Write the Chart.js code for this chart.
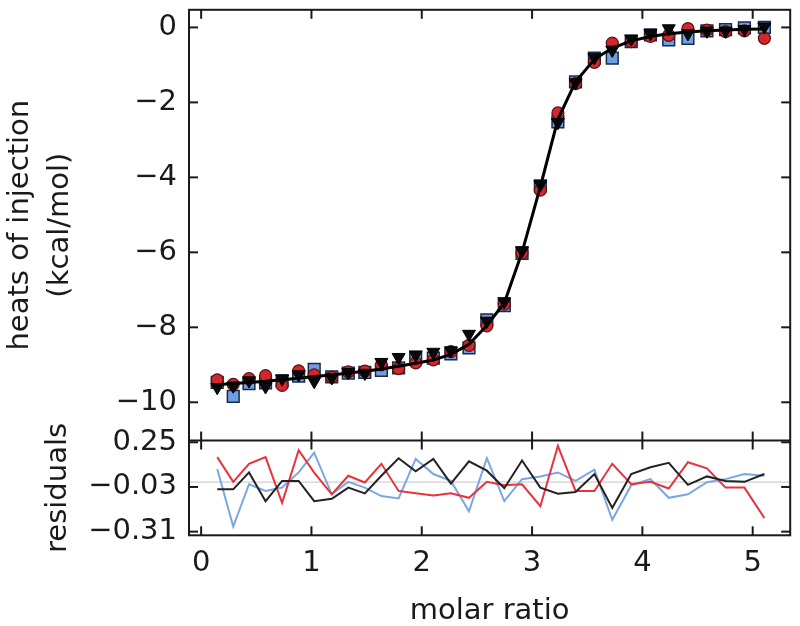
<!DOCTYPE html>
<html><head><meta charset="utf-8">
<script src="https://cdn.jsdelivr.net/npm/chart.js@4"></script>
<style>html,body{margin:0;padding:0;background:#fff;overflow:hidden}canvas{display:block}</style>
</head><body>
<canvas id="c" width="800" height="626" style="width:800px;height:626px"></canvas>
<script>
const molarRatio = [0.146,0.291,0.434,0.584,0.734,0.884,1.025,1.184,1.334,1.484,1.634,1.790,1.945,2.105,2.264,2.428,2.590,2.748,2.909,3.075,3.234,3.394,3.565,3.727,3.899,4.073,4.239,4.413,4.585,4.754,4.925,5.106];
const fitHeat = [-9.53,-9.50,-9.47,-9.44,-9.40,-9.36,-9.31,-9.27,-9.22,-9.17,-9.11,-9.04,-8.96,-8.87,-8.72,-8.45,-7.95,-7.35,-6.00,-4.25,-2.45,-1.45,-0.85,-0.55,-0.36,-0.24,-0.17,-0.12,-0.09,-0.07,-0.05,-0.04];
const heatRed = [-9.40,-9.52,-9.37,-9.29,-9.55,-9.16,-9.27,-9.33,-9.19,-9.17,-9.00,-9.10,-8.95,-8.87,-8.65,-8.48,-7.96,-7.38,-6.02,-4.34,-2.28,-1.50,-0.93,-0.42,-0.38,-0.24,-0.21,-0.03,-0.07,-0.11,-0.09,-0.29];
const heatBlue = [-9.47,-9.84,-9.50,-9.48,-9.43,-9.30,-9.12,-9.32,-9.22,-9.20,-9.15,-9.08,-8.82,-8.82,-8.71,-8.55,-7.80,-7.42,-6.03,-4.23,-2.52,-1.45,-0.82,-0.82,-0.38,-0.20,-0.33,-0.29,-0.09,-0.06,-0.01,0.00];
const heatBlack = [-9.60,-9.56,-9.42,-9.58,-9.37,-9.26,-9.44,-9.34,-9.20,-9.22,-8.93,-8.80,-8.73,-8.66,-8.62,-8.18,-7.83,-7.31,-5.95,-4.19,-2.53,-1.47,-0.80,-0.60,-0.30,-0.16,-0.03,-0.16,-0.09,-0.09,-0.05,0.02];
const residRed = [0.157,0.002,0.115,0.157,-0.130,0.200,0.060,-0.076,0.040,-0.002,0.115,-0.055,-0.070,-0.083,-0.070,-0.098,0.002,-0.019,-0.013,-0.151,0.227,-0.055,-0.055,0.115,-0.013,0.002,-0.040,0.125,0.087,-0.034,-0.034,-0.225];
const residBlue = [0.083,-0.278,-0.013,-0.055,-0.034,0.061,0.185,-0.076,0.002,-0.034,-0.087,-0.102,0.146,0.051,0.008,-0.183,0.150,-0.119,0.019,0.036,0.061,0.008,0.078,-0.236,-0.019,0.019,-0.098,-0.076,0.000,0.019,0.051,0.040];
const residBlack = [-0.045,-0.045,0.061,-0.119,0.008,0.008,-0.119,-0.104,-0.034,-0.070,0.040,0.150,0.068,0.146,-0.009,0.131,0.072,-0.038,0.136,-0.034,-0.072,-0.062,0.051,-0.161,0.051,0.093,0.121,-0.017,0.036,0.008,0.002,0.051];
const xTicks = [0,1,2,3,4,5];
const heatTicks = [0,-2,-4,-6,-8,-10];
const residTicks = [0.25,-0.03,-0.31];

const FONT = 'DejaVu Sans';
const TXT = '#1a1a1a';
const pts = arr => molarRatio.map((x,i)=>({x:x,y:arr[i]}));
const fmt = d => v => (v<0?'\u2212':'') + Math.abs(v).toFixed(d);
const setTicks = arr => s => { s.ticks = arr.map(v=>({value:v})); };

const framePlugin = {
  id:'frame',
  beforeDatasetsDraw(chart){
    const {ctx, chartArea:a, scales} = chart;
    const py = scales.y2.getPixelForValue(0);
    ctx.save();
    ctx.strokeStyle = '#cfcfcf'; ctx.lineWidth = 1.2;
    ctx.beginPath(); ctx.moveTo(a.left, py); ctx.lineTo(a.right, py); ctx.stroke();
    ctx.restore();
  },
  afterDatasetsDraw(chart){
    const {ctx, chartArea:a, scales} = chart;
    const x = scales.x, y = scales.y, y2 = scales.y2;
    const sep = y.bottom;
    const T = 9;
    ctx.save();
    ctx.strokeStyle = '#1a1a1a'; ctx.lineWidth = 2;
    const ln = (x1,y1,x2,y2_) => { ctx.beginPath(); ctx.moveTo(x1,y1); ctx.lineTo(x2,y2_); ctx.stroke(); };
    ctx.strokeRect(a.left, a.top, a.right-a.left, a.bottom-a.top);
    ln(a.left, sep, a.right, sep);
    xTicks.forEach(v=>{
      const px = x.getPixelForValue(v);
      ln(px, a.top, px, a.top+T);
      ln(px, sep-T, px, sep+T);
      ln(px, a.bottom, px, a.bottom-T);
    });
    heatTicks.forEach(v=>{
      const p = y.getPixelForValue(v);
      ln(a.left, p, a.left+T, p); ln(a.right, p, a.right-T, p);
    });
    residTicks.forEach(v=>{
      const p = y2.getPixelForValue(v);
      ln(a.left, p, a.left+T, p); ln(a.right, p, a.right-T, p);
    });
    ctx.restore();
  }
};

const tickFont = {family: FONT, size: 29};
new Chart(document.getElementById('c'), {
  type: 'scatter',
  data: {
    datasets: [
      {label:'fit', data: pts(fitHeat), yAxisID:'y', showLine:true, borderColor:'#000', borderWidth:3, pointRadius:0, order:0},
      {label:'black', data: pts(heatBlack), yAxisID:'y', pointStyle:'triangle', rotation:180, pointRadius:7.5, backgroundColor:'#0a0a0a', borderColor:'#000', borderWidth:1, order:1},
      {label:'red', data: pts(heatRed), yAxisID:'y', pointStyle:'circle', pointRadius:6, backgroundColor:'#d4262c', borderColor:'#5a1212', borderWidth:1.2, order:2},
      {label:'blue', data: pts(heatBlue), yAxisID:'y', pointStyle:'rect', pointRadius:8.3, backgroundColor:'#6e9fe2', borderColor:'#1c2a4a', borderWidth:1.5, order:3},
      {label:'rBlack', data: pts(residBlack), yAxisID:'y2', showLine:true, borderColor:'#222', borderWidth:2, pointRadius:0, order:4},
      {label:'rRed', data: pts(residRed), yAxisID:'y2', showLine:true, borderColor:'#e8323c', borderWidth:2, pointRadius:0, order:5},
      {label:'rBlue', data: pts(residBlue), yAxisID:'y2', showLine:true, borderColor:'#7ba7e0', borderWidth:2, pointRadius:0, order:6}
    ]
  },
  options: {
    responsive:false, animation:false, devicePixelRatio:1,
    layout:{padding:{top:3,right:7,left:0,bottom:0}},
    plugins:{legend:{display:false}, tooltip:{enabled:false}},
    scales:{
      x:{type:'linear', position:'bottom', min:-0.11, max:5.34,
        afterBuildTicks: setTicks(xTicks),
        afterFit: s => { s.height = 90.7; s.paddingLeft = 0; s.paddingRight = 0; },
        grid:{display:false, drawTicks:false}, border:{display:false},
        ticks:{font:tickFont, color:TXT, padding:11, maxRotation:0, autoSkip:false, callback: fmt(0)},
        title:{display:true, text:'molar ratio', font:{family:FONT,size:29,lineHeight:1}, color:TXT, padding:{top:0,bottom:0}}
      },
      y:{type:'linear', position:'left', stack:'panels', stackWeight:436.3, weight:1, min:-11.02, max:0.47,
        afterBuildTicks: setTicks(heatTicks),
        afterFit: s => { s.width = 189; s.paddingTop = 0; s.paddingBottom = 0; },
        grid:{display:false, drawTicks:false}, border:{display:false},
        ticks:{font:tickFont, color:TXT, padding:12, autoSkip:false, callback: fmt(0)},
        title:{display:true, text:['heats of injection','(kcal/mol)'], font:{family:FONT,size:29,lineHeight:40/29}, color:TXT, padding:{top:0,bottom:0}}
      },
      y2:{type:'linear', position:'left', stack:'panels', stackWeight:96, weight:0, min:-0.333, max:0.261,
        afterBuildTicks: setTicks(residTicks),
        afterFit: s => { s.width = 189; s.paddingTop = 0; s.paddingBottom = 0; },
        grid:{display:false, drawTicks:false}, border:{display:false},
        ticks:{font:tickFont, color:TXT, padding:12, autoSkip:false, callback: fmt(2)},
        title:{display:true, text:'residuals', font:{family:FONT,size:29,lineHeight:40/29}, color:TXT, padding:{top:38,bottom:0}}
      }
    }
  },
  plugins:[framePlugin]
});
</script>
</body></html>
